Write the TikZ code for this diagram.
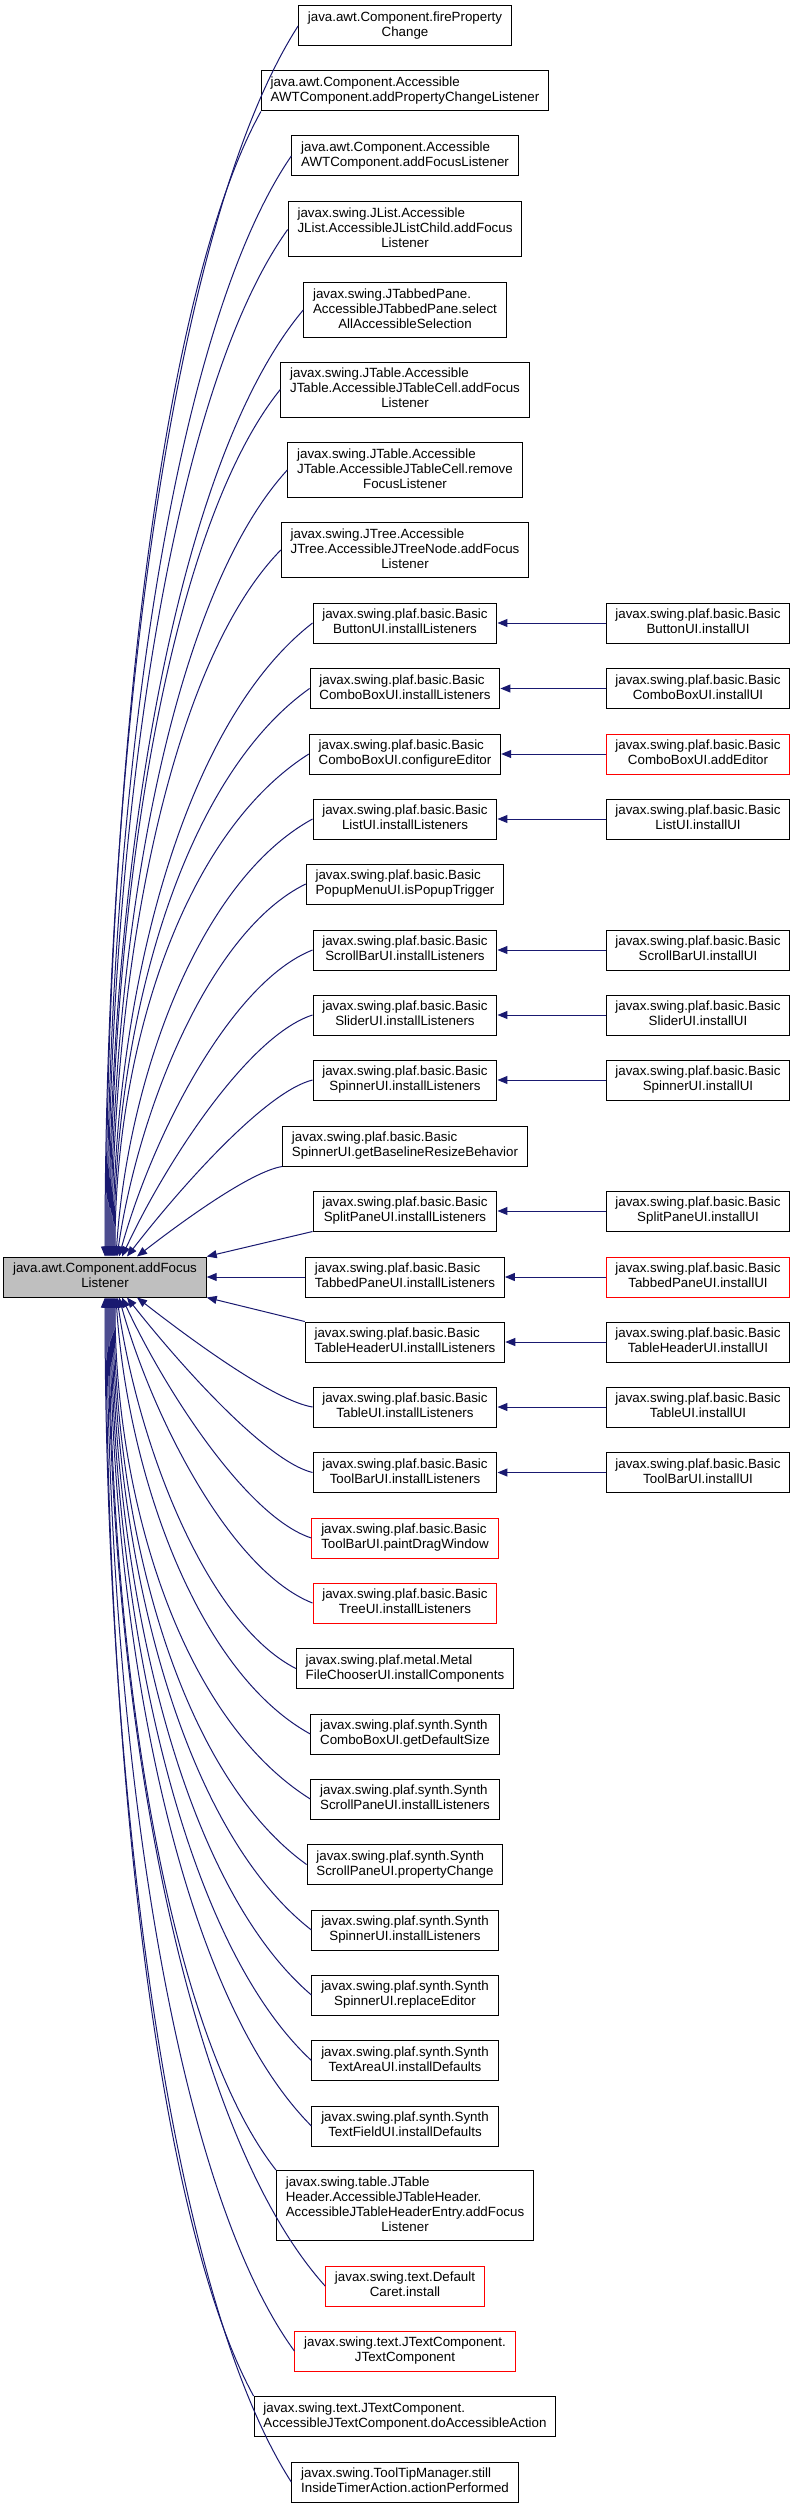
\documentclass[tikz,border=0pt]{standalone}
\usepackage{fontspec}
\setmainfont{Liberation Sans}
\usepackage{xcolor}
\usepackage{tikz}
\usetikzlibrary{arrows.meta, positioning, calc}

\definecolor{edgeblue}{HTML}{191970}
\definecolor{rootgray}{HTML}{BFBFBF}
% all lines flush left, the last one centred
\newcommand{\fnlabel}[2]{\begin{tabular}{@{}l@{}}#1\\\multicolumn{1}{@{}c@{}}{#2}\end{tabular}}

\begin{document}
\begin{tikzpicture}[
    x=0.75pt, y=-0.75pt,
    box/.style={draw, rectangle, fill=white, line width=0.75pt, inner xsep=7pt, inner ysep=3.75pt, font=\fontsize{10}{11.25}\selectfont},
    redbox/.style={box, draw=red},
    rootbox/.style={box, fill=rootgray},
    arrow/.style={->, >={Triangle[length=7.5pt, width=6pt]}, draw=edgeblue, line width=0.75pt}
]
\fill[white, use as bounding box] (0,0) rectangle (792,2508);

% the function itself
\node (root) [rootbox] at (105,1277) {\fnlabel{java.awt.Component.addFocus}{Listener}};

% callers
\node (fire) [box] at (405,26) {\fnlabel{java.awt.Component.fireProperty}{Change}};
\node (propchg) [box] at (405,91) {\fnlabel{java.awt.Component.Accessible}{AWTComponent.addPropertyChangeListener}};
\node (awtfocus) [box] at (405,156) {\fnlabel{java.awt.Component.Accessible}{AWTComponent.addFocusListener}};
\node (jlist) [box] at (405,229.5) {\fnlabel{javax.swing.JList.Accessible\\JList.AccessibleJListChild.addFocus}{Listener}};
\node (tabsel) [box] at (405,310) {\fnlabel{javax.swing.JTabbedPane.\\AccessibleJTabbedPane.select}{AllAccessibleSelection}};
\node (tcelladd) [box] at (405,389.5) {\fnlabel{javax.swing.JTable.Accessible\\JTable.AccessibleJTableCell.addFocus}{Listener}};
\node (tcellrem) [box] at (405,470) {\fnlabel{javax.swing.JTable.Accessible\\JTable.AccessibleJTableCell.remove}{FocusListener}};
\node (jtree) [box] at (405,550) {\fnlabel{javax.swing.JTree.Accessible\\JTree.AccessibleJTreeNode.addFocus}{Listener}};
\node (btn) [box] at (405,623) {\fnlabel{javax.swing.plaf.basic.Basic}{ButtonUI.installListeners}};
\node (cbinst) [box] at (405,688.5) {\fnlabel{javax.swing.plaf.basic.Basic}{ComboBoxUI.installListeners}};
\node (cbcfg) [box] at (405,754) {\fnlabel{javax.swing.plaf.basic.Basic}{ComboBoxUI.configureEditor}};
\node (lst) [box] at (405,819) {\fnlabel{javax.swing.plaf.basic.Basic}{ListUI.installListeners}};
\node (popup) [box] at (405,884) {\fnlabel{javax.swing.plaf.basic.Basic}{PopupMenuUI.isPopupTrigger}};
\node (scroll) [box] at (405,950) {\fnlabel{javax.swing.plaf.basic.Basic}{ScrollBarUI.installListeners}};
\node (slider) [box] at (405,1015) {\fnlabel{javax.swing.plaf.basic.Basic}{SliderUI.installListeners}};
\node (spin) [box] at (405,1080) {\fnlabel{javax.swing.plaf.basic.Basic}{SpinnerUI.installListeners}};
\node (spinbase) [box] at (405,1146) {\fnlabel{javax.swing.plaf.basic.Basic}{SpinnerUI.getBaselineResizeBehavior}};
\node (split) [box] at (405,1211) {\fnlabel{javax.swing.plaf.basic.Basic}{SplitPaneUI.installListeners}};
\node (tabbed) [box] at (405,1277) {\fnlabel{javax.swing.plaf.basic.Basic}{TabbedPaneUI.installListeners}};
\node (thead) [box] at (405,1342) {\fnlabel{javax.swing.plaf.basic.Basic}{TableHeaderUI.installListeners}};
\node (table) [box] at (405,1407) {\fnlabel{javax.swing.plaf.basic.Basic}{TableUI.installListeners}};
\node (tbar) [box] at (405,1472.5) {\fnlabel{javax.swing.plaf.basic.Basic}{ToolBarUI.installListeners}};
\node (tbardrag) [redbox] at (405,1538) {\fnlabel{javax.swing.plaf.basic.Basic}{ToolBarUI.paintDragWindow}};
\node (tree) [redbox] at (405,1603) {\fnlabel{javax.swing.plaf.basic.Basic}{TreeUI.installListeners}};
\node (metalfc) [box] at (405,1668.5) {\fnlabel{javax.swing.plaf.metal.Metal}{FileChooserUI.installComponents}};
\node (scombo) [box] at (405,1734) {\fnlabel{javax.swing.plaf.synth.Synth}{ComboBoxUI.getDefaultSize}};
\node (sscroll) [box] at (405,1799) {\fnlabel{javax.swing.plaf.synth.Synth}{ScrollPaneUI.installListeners}};
\node (sscrollpc) [box] at (405,1864.5) {\fnlabel{javax.swing.plaf.synth.Synth}{ScrollPaneUI.propertyChange}};
\node (sspin) [box] at (405,1930) {\fnlabel{javax.swing.plaf.synth.Synth}{SpinnerUI.installListeners}};
\node (sspinre) [box] at (405,1995) {\fnlabel{javax.swing.plaf.synth.Synth}{SpinnerUI.replaceEditor}};
\node (stextarea) [box] at (405,2060.5) {\fnlabel{javax.swing.plaf.synth.Synth}{TextAreaUI.installDefaults}};
\node (stextfield) [box] at (405,2126) {\fnlabel{javax.swing.plaf.synth.Synth}{TextFieldUI.installDefaults}};
\node (theadentry) [box] at (405,2205.5) {\fnlabel{javax.swing.table.JTable\\Header.AccessibleJTableHeader.\\AccessibleJTableHeaderEntry.addFocus}{Listener}};
\node (caret) [redbox] at (405,2286) {\fnlabel{javax.swing.text.Default}{Caret.install}};
\node (jtextcomp) [redbox] at (405,2351) {\fnlabel{javax.swing.text.JTextComponent.}{JTextComponent}};
\node (jtextact) [box] at (405,2416.5) {\fnlabel{javax.swing.text.JTextComponent.}{AccessibleJTextComponent.doAccessibleAction}};
\node (tooltip) [box] at (405,2482) {\fnlabel{javax.swing.ToolTipManager.still}{InsideTimerAction.actionPerformed}};

% callers of the callers
\node (btnui) [box] at (698,623) {\fnlabel{javax.swing.plaf.basic.Basic}{ButtonUI.installUI}};
\node (cbui) [box] at (698,688.5) {\fnlabel{javax.swing.plaf.basic.Basic}{ComboBoxUI.installUI}};
\node (cbadd) [redbox] at (698,754) {\fnlabel{javax.swing.plaf.basic.Basic}{ComboBoxUI.addEditor}};
\node (lstui) [box] at (698,819) {\fnlabel{javax.swing.plaf.basic.Basic}{ListUI.installUI}};
\node (scrollui) [box] at (698,950) {\fnlabel{javax.swing.plaf.basic.Basic}{ScrollBarUI.installUI}};
\node (sliderui) [box] at (698,1015) {\fnlabel{javax.swing.plaf.basic.Basic}{SliderUI.installUI}};
\node (spinui) [box] at (698,1080) {\fnlabel{javax.swing.plaf.basic.Basic}{SpinnerUI.installUI}};
\node (splitui) [box] at (698,1211) {\fnlabel{javax.swing.plaf.basic.Basic}{SplitPaneUI.installUI}};
\node (tabbedui) [redbox] at (698,1277) {\fnlabel{javax.swing.plaf.basic.Basic}{TabbedPaneUI.installUI}};
\node (theadui) [box] at (698,1342) {\fnlabel{javax.swing.plaf.basic.Basic}{TableHeaderUI.installUI}};
\node (tableui) [box] at (698,1407) {\fnlabel{javax.swing.plaf.basic.Basic}{TableUI.installUI}};
\node (tbarui) [box] at (698,1472.5) {\fnlabel{javax.swing.plaf.basic.Basic}{ToolBarUI.installUI}};

% curved calls into the top of the root
\foreach \src/\dx/\pp in {fire.west/0/1, propchg.south west/1/1, awtfocus.west/2/1, jlist.west/3/1,
    tabsel.west/4/1, tcelladd.west/5/1, tcellrem.west/6/1, jtree.west/7/1, btn.west/8/1,
    cbinst.west/9/1, cbcfg.west/10/1, lst.west/11/0.82, popup.west/12/0.64, scroll.west/14/0.45,
    slider.west/17/0.26, spin.west/22/0.08, spinbase.south west/32/0}
  \draw [arrow] let \p1=(\src), \p2=([shift={(\dx,0)}]root.north), \n1={\x1-\x2}, \n2={\y1-\y2} in
    (\p1) .. controls ({\x1-(0.215+0.452*\pp)*\n1},{\y1-(0.056+0.107*\pp)*\n2})
    and ({\x2+0.32*(1-\pp)*\n1},{\y2+0.4*\n2}) .. (\p2);

% curved calls into the bottom of the root
\foreach \src/\dx/\pp in {table.west/32/0, tbar.west/22/0.07, tbardrag.west/17/0.26, tree.west/14/0.45,
    metalfc.west/12/0.63, scombo.west/11/0.82, sscroll.west/10/1, sscrollpc.west/9/1, sspin.west/8/1,
    sspinre.west/7/1, stextarea.west/6/1, stextfield.west/5/1, theadentry.north west/4/1,
    caret.west/3/1, jtextcomp.west/2/1, jtextact.north west/1/1, tooltip.west/0/1}
  \draw [arrow] let \p1=(\src), \p2=([shift={(\dx,0)}]root.south), \n1={\x1-\x2}, \n2={\y1-\y2} in
    (\p1) .. controls ({\x1-(0.215+0.452*\pp)*\n1},{\y1-(0.056+0.107*\pp)*\n2})
    and ({\x2+0.32*(1-\pp)*\n1},{\y2+0.4*\n2}) .. (\p2);

\draw [arrow] (split.south west) -- (root.north east);
\draw [arrow] (tabbed) -- (root);
\draw [arrow] (thead.north west) -- (root.south east);

\foreach \a/\b in {btnui/btn, cbui/cbinst, cbadd/cbcfg, lstui/lst, scrollui/scroll, sliderui/slider,
    spinui/spin, splitui/split, tabbedui/tabbed, theadui/thead, tableui/table, tbarui/tbar}
  \draw [arrow] (\a) -- (\b);
\end{tikzpicture}
\end{document}
